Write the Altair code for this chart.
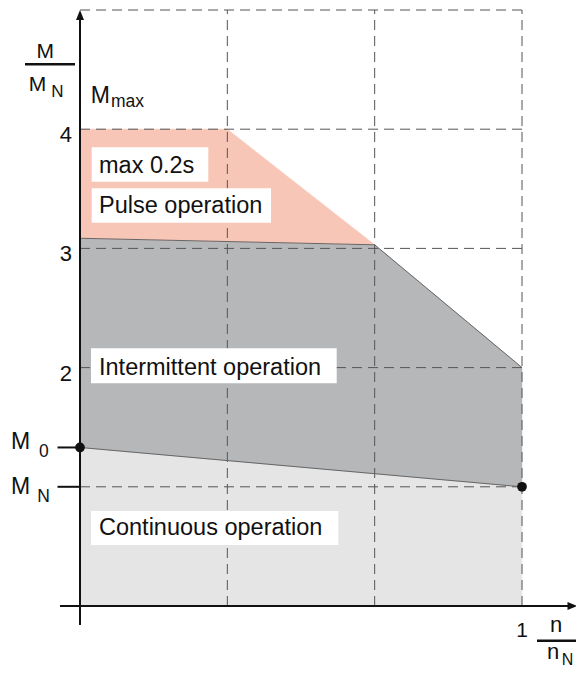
import altair as alt
import pandas as pd

# ---------------- data (n/nN on x, M/MN on y) ----------------
pulse_n = [0.0, 1/3, 2/3, 0.0]
pulse_m = [4.0, 4.0, 3.03, 3.085]
inter_n = [0.0, 2/3, 1.0, 1.0, 0.0]
inter_m = [3.085, 3.03, 2.0, 1.0, 1.33]
cont_n = [0.0, 1.0, 1.0, 0.0]
cont_m = [1.33, 1.0, 0.0, 0.0]

grid_m = [1, 2, 3, 4, 5]
grid_n = [1/3, 2/3, 1]

dots_n = [0.0, 1.0]
dots_m = [1.33, 1.0]

tick_vals = [4, 3, 2]
tick_labels = ["4", "3", "2"]

box_texts = ["max 0.2s", "Pulse operation", "Intermittent operation", "Continuous operation"]

# ---------------- layout helpers ----------------
W, H = 568, 659
X0, XU = 80.0, 442.0     # page px of n=0, px per unit
Y0, YU = 606.0, 119.2    # page px of M=0, px per unit


def X(px):
    return (px - X0) / XU


def Y(py):
    return (Y0 - py) / YU


xdom = [X(8), X(8 + W)]
ydom = [Y(8 + H), Y(8)]
xs = alt.Scale(domain=xdom, nice=False, zero=False)
ys = alt.Scale(domain=ydom, nice=False, zero=False)
FONT = "Liberation Sans"
INK = "#111111"


def enc_xy(**kw):
    return dict(x=alt.X("x:Q", scale=xs, axis=None),
                y=alt.Y("y:Q", scale=ys, axis=None), **kw)


def poly(ns, ms, color):
    df = pd.DataFrame({"x": ns, "y": ms, "i": list(range(len(ns)))})
    return alt.Chart(df).mark_line(fill=color, stroke=color, strokeWidth=0.5).encode(
        **enc_xy(order=alt.Order("i:Q")))


fills = [
    poly(cont_n, cont_m, "#E5E5E5"),
    poly(inter_n, inter_m, "#B6B7B9"),
    poly(pulse_n, pulse_m, "#F8C6B7"),
]

# grid
hgrid = alt.Chart(pd.DataFrame({"y": grid_m, "x": 0.0, "x2": 1.0})).mark_rule(
    color="#555555", strokeWidth=1, strokeDash=[10, 6]).encode(
    x=alt.X("x:Q", scale=xs, axis=None), x2="x2:Q", y=alt.Y("y:Q", scale=ys, axis=None))
vgrid = alt.Chart(pd.DataFrame({"x": grid_n, "y": 0.0, "y2": 5.0})).mark_rule(
    color="#555555", strokeWidth=1, strokeDash=[10, 6]).encode(
    x=alt.X("x:Q", scale=xs, axis=None), y=alt.Y("y:Q", scale=ys, axis=None), y2="y2:Q")

# boundary lines
seg = pd.DataFrame({
    "x": [pulse_n[3], pulse_n[2], inter_n[1], inter_n[2], cont_n[0], cont_n[1]],
    "y": [pulse_m[3], pulse_m[2], inter_m[1], inter_m[2], cont_m[0], cont_m[1]],
    "s": ["a", "a", "b", "b", "c", "c"],
})
bounds = alt.Chart(seg).mark_line(color="#666666", strokeWidth=1).encode(
    **enc_xy(detail="s:N"))

# white label boxes
box_df = pd.DataFrame({
    "x": [X(91.7), X(91.7), X(91), X(91)],
    "x2": [X(208.3), X(271), X(336.7), X(338.3)],
    "y": [Y(147.3), Y(188.3), Y(348.3), Y(511)],
    "y2": [Y(181.7), Y(222.7), Y(383.3), Y(545)],
})
boxes = alt.Chart(box_df).mark_rect(color="white").encode(
    x=alt.X("x:Q", scale=xs, axis=None), x2="x2:Q",
    y=alt.Y("y:Q", scale=ys, axis=None), y2="y2:Q")

box_lbl = pd.DataFrame({
    "t": box_texts,
    "x": [X(99)] * 4,
    "y": [Y(173), Y(212.7), Y(375), Y(535)],
})
box_text = alt.Chart(box_lbl).mark_text(
    align="left", baseline="alphabetic", fontSize=23.5, font=FONT, color=INK).encode(
    **enc_xy(text="t:N"))

# axes
axes_df = pd.DataFrame({
    "x": [0.0, X(60), X(57.5), X(57.5)],
    "x2": [0.0, X(572), 0.0, 0.0],
    "y": [Y(625), 0.0, dots_m[0], dots_m[1]],
    "y2": [Y(14), 0.0, dots_m[0], dots_m[1]],
})
axes = alt.Chart(axes_df).mark_rule(color=INK, strokeWidth=2).encode(
    x=alt.X("x:Q", scale=xs, axis=None), x2="x2:Q",
    y=alt.Y("y:Q", scale=ys, axis=None), y2="y2:Q")

# fraction bars
frac_df = pd.DataFrame({"x": [X(25), X(537)], "x2": [X(75), X(584)],
                        "y": [Y(64.3), Y(640.7)]})
fracs = alt.Chart(frac_df).mark_rule(color=INK, strokeWidth=2.5).encode(
    x=alt.X("x:Q", scale=xs, axis=None), x2="x2:Q", y=alt.Y("y:Q", scale=ys, axis=None))

# arrow heads
up = alt.Chart(pd.DataFrame({"x": [0.0], "y": [Y(15)]})).mark_point(
    shape="M0,-1L0.8,1L-0.8,1Z", size=100, filled=True, color=INK, opacity=1,
    strokeWidth=0).encode(**enc_xy())
right = alt.Chart(pd.DataFrame({"x": [X(572.5)], "y": [0.0]})).mark_point(
    shape="M1,0L-1,0.8L-1,-0.8Z", size=100, filled=True, color=INK, opacity=1,
    strokeWidth=0).encode(**enc_xy())

# dots
dots = alt.Chart(pd.DataFrame({"x": dots_n, "y": dots_m})).mark_point(
    shape="circle", size=95, filled=True, color=INK, opacity=1, strokeWidth=0).encode(**enc_xy())

# tick labels
ticks = alt.Chart(pd.DataFrame({"t": tick_labels, "y": tick_vals, "x": 0.0})).mark_text(
    align="right", baseline="alphabetic", fontSize=22, font=FONT, color=INK,
    dx=-8, dy=13).encode(**enc_xy(text="t:N"))
one = alt.Chart(pd.DataFrame({"t": ["1"], "x": [1.0], "y": [0.0]})).mark_text(
    align="center", baseline="alphabetic", fontSize=21, font=FONT, color=INK,
    dy=31).encode(**enc_xy(text="t:N"))


def txt(items, size, align="center"):
    df = pd.DataFrame({"t": [i[0] for i in items],
                       "x": [X(i[1]) for i in items],
                       "y": [Y(i[2]) for i in items]})
    return alt.Chart(df).mark_text(align=align, baseline="alphabetic", fontSize=size,
                                   font=FONT, color=INK).encode(**enc_xy(text="t:N"))


labels = [
    txt([("M", 45.2, 58), ("M", 37.5, 90.5)], 21),
    txt([("N", 57.5, 97)], 17),
    txt([("M", 100.3, 102.7), ("M", 20.5, 448.5), ("M", 20.5, 494.3)], 23),
    txt([("max", 111, 106.7)], 17.5, "left"),
    txt([("0", 43.8, 457), ("N", 43.5, 502)], 17.5),
    txt([("n", 556, 632), ("n", 553, 659)], 22),
    txt([("N", 567.5, 665)], 16),
]

chart = alt.layer(
    *fills, hgrid, vgrid, bounds, boxes, box_text, axes, fracs, up, right, dots,
    ticks, one, *labels
).properties(
    width=W, height=H, padding=0, autosize=alt.AutoSizeParams(type="none")
).configure_view(stroke=None)

chart.save("out.html", embed_options={"renderer": "svg", "actions": False})
